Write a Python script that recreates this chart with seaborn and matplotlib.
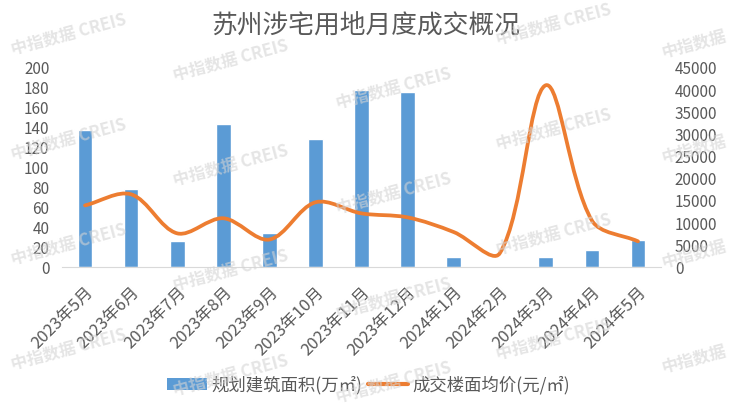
import numpy as np
import pandas as pd
import matplotlib
matplotlib.use("Agg")
import matplotlib.pyplot as plt
import seaborn as sns
from matplotlib.path import Path
from matplotlib.patches import PathPatch, Patch
from matplotlib.lines import Line2D

# --- data ---
months = ["2023年5月", "2023年6月", "2023年7月", "2023年8月", "2023年9月",
          "2023年10月", "2023年11月", "2023年12月", "2024年1月", "2024年2月",
          "2024年3月", "2024年4月", "2024年5月"]
area = [138, 79, 27, 144, 35, 129, 178, 176, 11, 0, 11, 18, 28]
price = [14000, 16500, 7700, 11100, 6300, 14700, 12200, 11300, 8000, 3200,
         41100, 10600, 5900]

area_label = "规划建筑面积(万㎡)"
price_label = "成交楼面均价(元/㎡)"
title = "苏州涉宅用地月度成交概况"

BAR_COLOR = "#5B9BD5"
LINE_COLOR = "#ED7D31"
TEXT_COLOR = "#595959"

sns.set_style("white")
plt.rcParams["font.family"] = ["Noto Sans CJK SC", "DejaVu Sans"]

df = pd.DataFrame({"month": months, "area": area, "price": price})

fig = plt.figure(figsize=(7.37, 4.07), dpi=100)
ax = fig.add_axes([0.0841, 0.3428, 0.8128, 0.4902])

sns.barplot(data=df, x="month", y="area", order=months, color=BAR_COLOR,
            width=0.32, saturation=1, ax=ax, zorder=2)
ax.set_xlim(-0.5, len(months) - 0.5)
ax.set_ylim(0, 200)
ax.set_yticks(range(0, 201, 20))
ax.set_xlabel("")
ax.set_ylabel("")

ax2 = ax.twinx()
ax2.set_ylim(0, 45000)
ax2.set_yticks(range(0, 45001, 5000))
ax2.set_xlim(ax.get_xlim())

# smoothed line, Excel style bezier through the data points (pixel space)
fig.canvas.draw()
pts = ax2.transData.transform(np.column_stack([np.arange(len(price)), price]))
verts = [pts[0]]
codes = [Path.MOVETO]
f = 1 / 3
n = len(pts)
for i in range(n - 1):
    p0 = pts[max(i - 1, 0)]
    p1 = pts[i]
    p2 = pts[i + 1]
    p3 = pts[min(i + 2, n - 1)]
    d01 = np.hypot(*(p1 - p0))
    d12 = np.hypot(*(p2 - p1))
    d23 = np.hypot(*(p3 - p2))
    w1 = d12 / (d01 + d12) if d01 + d12 > 0 else 0
    w2 = d12 / (d12 + d23) if d12 + d23 > 0 else 0
    c1 = p1 + (p2 - p0) * f * w1
    c2 = p2 - (p3 - p1) * f * w2
    verts += [c1, c2, p2]
    codes += [Path.CURVE4] * 3
verts = ax2.transData.inverted().transform(np.array(verts))
ax2.add_patch(PathPatch(Path(verts, codes), facecolor="none", edgecolor=LINE_COLOR,
                        lw=2.7, capstyle="round", joinstyle="round", zorder=3))

# axes cosmetics
for a in (ax, ax2):
    for s in a.spines.values():
        s.set_visible(False)
    a.grid(False)
ax.spines["bottom"].set_visible(True)
ax.spines["bottom"].set_color("#d9d9d9")
ax.tick_params(axis="y", length=0, pad=9, labelsize=11, labelcolor=TEXT_COLOR)
ax2.tick_params(axis="y", length=0, pad=10, labelsize=11, labelcolor=TEXT_COLOR)
ax.set_xticks(np.arange(-0.5, len(months), 1), minor=True)
ax.tick_params(axis="x", which="minor", length=5, color="#d9d9d9", width=0.8)
ax.tick_params(axis="x", which="major", length=0, pad=12, labelsize=12,
               labelcolor=TEXT_COLOR)
plt.setp(ax.get_xticklabels(), rotation=45, ha="right", va="top",
         rotation_mode="anchor")

fig.text(0.497, 1 - 27 / 407, title, ha="center", va="center", fontsize=18.5,
         color=TEXT_COLOR, fontweight="light")

handles = [Patch(facecolor=BAR_COLOR, edgecolor="none"),
           Line2D([0], [0], color=LINE_COLOR, lw=3)]
fig.legend(handles, [area_label, price_label], loc="center",
           bbox_to_anchor=(0.5, 1 - 385 / 407), ncol=2, frameon=False,
           fontsize=12.5, handlelength=2.3, handletextpad=0.25, columnspacing=0.3,
           labelcolor=TEXT_COLOR)

# watermark tiles (the right column only shows its Chinese part in the reference)
wm_x = [69, 231, 394, 554, 694]
wm_y0 = [34, 60, 88, 24, 44]
for k, (cx, y0) in enumerate(zip(wm_x, wm_y0)):
    text = "中指数据" if k == len(wm_x) - 1 else "中指数据 CREIS"
    for r in range(4):
        cy = min(y0 + 105 * r, 382)
        fig.text(cx / 737, 1 - cy / 407, text, ha="center", va="center",
                 rotation=15, fontsize=12, fontweight="bold", color="#d4d4d4",
                 alpha=0.6, zorder=10)

fig.savefig("out.png", dpi=100)
